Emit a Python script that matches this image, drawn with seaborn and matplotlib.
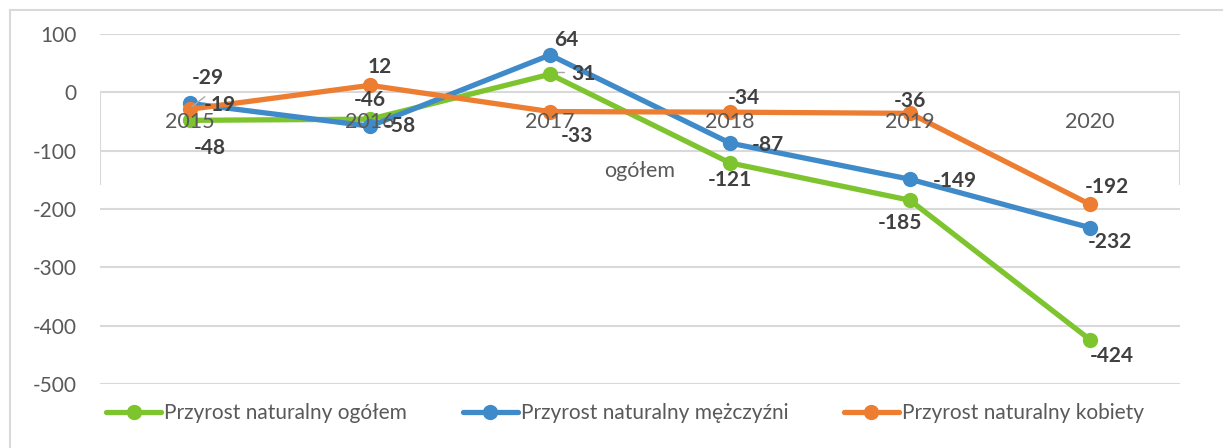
import numpy as np
import matplotlib.pyplot as plt
import seaborn as sns
import pandas as pd
from matplotlib.lines import Line2D

# dane: przyrost naturalny 2015-2020
lata = ['2015', '2016', '2017', '2018', '2019', '2020']
ogolem = [-48, -46, 31, -121, -185, -424]
mezczyzni = [-19, -58, 64, -87, -149, -232]
kobiety = [-29, 12, -33, -34, -36, -192]
serie = ['Przyrost naturalny ogółem', 'Przyrost naturalny mężczyźni', 'Przyrost naturalny kobiety']
kolory = ['#7DC42F', '#3F8AC9', '#ED7D31']

# przesuniecia etykiet danych (piksele)
offsets = {
    serie[0]: [(20, -28), (0, 19), (33, 0), (0, -17), (-10, -23), (22, -16)],
    serie[1]: [(30, -2), (30, 0), (16, 15), (38, -2), (45, -2), (20, -14)],
    serie[2]: [(18, 31), (10, 18), (27, -24), (14, 14), (0, 12), (17, 17)],
}

df = pd.DataFrame({
    'idx': list(range(len(lata))) * 3,
    'rok': lata * 3,
    'wartosc': ogolem + mezczyzni + kobiety,
    'seria': [s for s in serie for _ in lata],
})

sns.set_theme(style='white')
plt.rcParams['font.family'] = ['Lato', 'DejaVu Sans']
plt.rcParams['axes.unicode_minus'] = False

W, H = 1223, 448
fig = plt.figure(figsize=(W / 100, H / 100), dpi=100)
ax = fig.add_axes([100 / W, 64 / H, 1080 / W, 350 / H])

grid_c = '#D9D9D9'
txt_c = '#595959'
lab_c = '#404040'

for y in range(-500, 101, 100):
    ax.axhline(y, color=grid_c, lw=1.5, zorder=0)
ax.vlines([-0.5, 5.5], -159, 0, color=grid_c, lw=1.5, zorder=0)

sns.lineplot(data=df, x='idx', y='wartosc', hue='seria', hue_order=serie,
             palette=kolory, marker='o', markersize=11, markeredgewidth=0,
             linewidth=3.8, ax=ax, legend=False, zorder=3)

for s in serie:
    sub = df[df['seria'] == s]
    for (i, v), (dx, dy) in zip(zip(sub['idx'], sub['wartosc']), offsets[s]):
        ax.annotate(str(v), (i, v), xytext=(dx, dy), textcoords='offset pixels',
                    ha='center', va='center', fontsize=15, fontweight='bold',
                    color=lab_c, zorder=5)

# linie odniesienia etykiet
ax.annotate('', xy=(0, -27), xytext=(17, 13), textcoords='offset pixels',
            arrowprops=dict(arrowstyle='-', color='#A6A6A6', lw=1))
ax.plot([2.01, 2.08], [34, 34], color='#A6A6A6', lw=1, zorder=2)

# etykiety kategorii przy osi 0
for i, r in enumerate(lata):
    ax.annotate(r, (i, 0), xytext=(0, -30), textcoords='offset pixels',
                ha='center', va='center', fontsize=15.5, color=txt_c, zorder=4)
ax.text(2.5, -134, 'ogółem', ha='center', va='center', fontsize=15.5, color=txt_c)

ax.set_xlim(-0.5, 5.5)
ax.set_ylim(-500, 100)
ax.set_yticks(range(-500, 101, 100))
ax.set_xticks([])
ax.tick_params(axis='y', length=0, pad=17, labelsize=15, labelcolor=txt_c)
ax.set_xlabel('')
ax.set_ylabel('')
for sp in ax.spines.values():
    sp.set_visible(False)

handles = [Line2D([0], [0], color=c, lw=3.8, marker='o', markersize=11,
                  markeredgewidth=0) for c in kolory]
fig.legend(handles, serie, loc='center', bbox_to_anchor=(625 / W, 35 / H),
           ncol=3, frameon=False, fontsize=15, labelcolor=txt_c,
           handlelength=2.65, handletextpad=0.15, columnspacing=2.65)

# ramka wykresu
fig.add_artist(Line2D([10 / W, 1], [1 - 10 / H, 1 - 10 / H], color=grid_c, lw=1.5))
fig.add_artist(Line2D([10 / W, 10 / W], [0, 1 - 10 / H], color=grid_c, lw=1.5))

fig.savefig('out.png', dpi=100)
